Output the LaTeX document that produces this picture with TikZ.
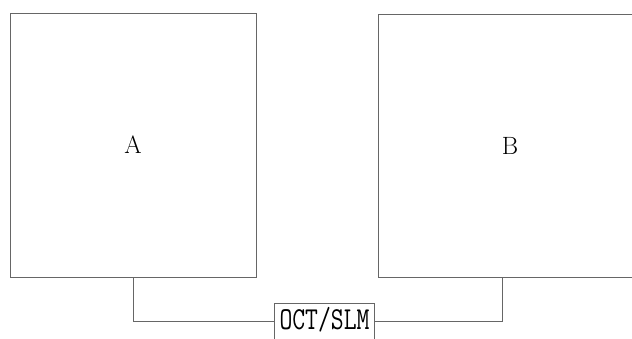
\documentclass[tikz,border=0pt]{standalone}
\usetikzlibrary{calc, positioning}

\begin{document}
\begin{tikzpicture}[x=1pt, y=-1pt,
  panel/.style={draw=black!60, line width=0.8pt, inner sep=0pt,
    font=\fontsize{25}{25}\selectfont},
  wire/.style={draw=black!60, line width=0.8pt}]
\def\tapB{8}
\useasboundingbox (0,0) rectangle (632,338);
\clip (0,0) rectangle (632,338);
% the two panels
\node[panel, minimum width=246pt, minimum height=264pt] (A) at (133,145) {A};
\node[panel, minimum width=264pt, minimum height=263pt] (B) at (510,145.5) {B};
% link box, open at the bottom edge
\node[panel, draw=none, minimum width=99pt, minimum height=32pt,
  font=\ttfamily\fontsize{32}{32}\selectfont] (oct) at (324.5,320)
  {\scalebox{0.78}[1]{OCT/SLM}};
\draw[wire] ($(oct.south west)+(0,4)$) -- (oct.north west) -- (oct.north east) -- ($(oct.south east)+(0,4)$);
\draw[wire] (A.south) |- ($(oct.west)+(0,1)$);
\draw[wire] ($(oct.east)+(0,1)$) -| ($(B.south)+(-\tapB,0)$);
\end{tikzpicture}
\end{document}
